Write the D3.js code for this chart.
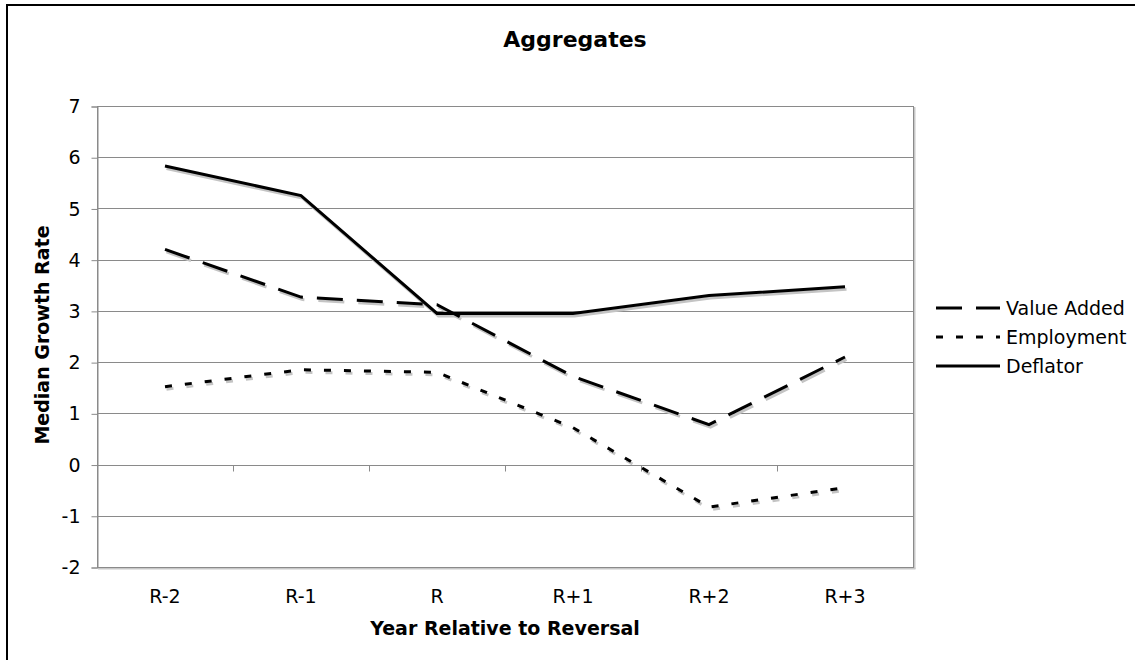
<!DOCTYPE html>
<html>
<head>
<meta charset="utf-8">
<script src="https://cdn.jsdelivr.net/npm/d3@7"></script>
<style>
  html, body { margin: 0; padding: 0; background: #fff; }
  svg { display: block; font-family: "DejaVu Sans", Verdana, sans-serif; }
</style>
</head>
<body>
<svg id="chart" width="1135" height="660"></svg>
<script>
const categories = ["R-2", "R-1", "R", "R+1", "R+2", "R+3"];
const valueAdded = [4.2, 3.27, 3.12, 1.72, 0.78, 2.1];
const employment = [1.52, 1.85, 1.8, 0.72, -0.83, -0.45];
const deflator   = [5.83, 5.25, 2.95, 2.95, 3.3, 3.47];
const yTicks = [-2, -1, 0, 1, 2, 3, 4, 5, 6, 7];
const yTickLabels = ["-2", "-1", "0", "1", "2", "3", "4", "5", "6", "7"];
const seriesNames = ["Value Added", "Employment", "Deflator"];
const chartTitle = "Aggregates";
const xTitle = "Year Relative to Reversal";
const yTitle = "Median Growth Rate";

const series = [
  { name: seriesNames[0], values: valueAdded, dash: "26,14" },
  { name: seriesNames[1], values: employment, dash: "7,13" },
  { name: seriesNames[2], values: deflator, dash: null }
];

const svg = d3.select("#chart");
const plot = { left: 97, right: 913, top: 106, bottom: 567 };

const x = d3.scaleBand().domain(categories).range([plot.left, plot.right]).padding(0);
const y = d3.scaleLinear().domain([-2, 7]).range([plot.bottom, plot.top]);
const cx = c => x(c) + x.bandwidth() / 2;

// outer border
svg.append("rect").attr("x", 7).attr("y", 5).attr("width", 1200).attr("height", 700)
  .attr("fill", "none").attr("stroke", "#000").attr("stroke-width", 2);

// plot shadow
svg.append("line").attr("x1", plot.right + 1.5).attr("x2", plot.right + 1.5)
  .attr("y1", plot.top + 1).attr("y2", plot.bottom + 2)
  .attr("stroke", "#c8c8c8").attr("stroke-width", 2);
svg.append("line").attr("x1", plot.left + 1).attr("x2", plot.right + 2.5)
  .attr("y1", plot.bottom + 1.5).attr("y2", plot.bottom + 1.5)
  .attr("stroke", "#c8c8c8").attr("stroke-width", 2);

// gridlines
svg.append("g").selectAll("line").data(yTicks).join("line")
  .attr("x1", plot.left).attr("x2", plot.right)
  .attr("y1", d => Math.round(y(d)) + 0.5).attr("y2", d => Math.round(y(d)) + 0.5)
  .attr("stroke", "#8a8a8a").attr("stroke-width", 1);

// plot border
svg.append("rect")
  .attr("x", plot.left + 0.5).attr("y", Math.round(plot.top) + 0.5)
  .attr("width", plot.right - plot.left).attr("height", plot.bottom - plot.top)
  .attr("fill", "none").attr("stroke", "#8a8a8a").attr("stroke-width", 1);

// y axis
const yAxis = d3.axisLeft(y).tickValues(yTicks).tickSize(6).tickPadding(11)
  .tickFormat((d, i) => yTickLabels[i]);
const gy = svg.append("g").attr("transform", `translate(${plot.left + 0.5},0.5)`).call(yAxis);
gy.select(".domain").attr("stroke", "#8a8a8a");
gy.selectAll(".tick line").attr("stroke", "#8a8a8a");
gy.selectAll(".tick text").attr("font-size", 19).attr("font-family", "DejaVu Sans, Verdana, sans-serif").attr("fill", "#000");

// x axis at y=0 with boundary ticks
const boundaries = categories.map(c => x(c)).concat([plot.right]);
const zeroY = Math.round(y(0)) + 0.5;
svg.append("g").selectAll("line").data(boundaries).join("line")
  .attr("x1", d => Math.round(d) + 0.5).attr("x2", d => Math.round(d) + 0.5)
  .attr("y1", zeroY).attr("y2", zeroY + 6)
  .attr("stroke", "#8a8a8a").attr("stroke-width", 1);

// x labels
const xAxis = d3.axisBottom(x).tickSize(0).tickPadding(0);
const gx = svg.append("g").attr("transform", `translate(0,${plot.bottom + 22})`).call(xAxis);
gx.select(".domain").remove();
gx.selectAll(".tick text").attr("font-size", 19).attr("font-family", "DejaVu Sans, Verdana, sans-serif").attr("fill", "#000");

// lines
const line = d3.line().x((d, i) => cx(categories[i])).y(d => y(d));

const shadows = svg.append("g").attr("transform", "translate(1.5,2.5)");
series.forEach(s => {
  shadows.append("path").datum(s.values).attr("d", line)
    .attr("fill", "none").attr("stroke", "#c4c4c4").attr("stroke-width", 3)
    .attr("stroke-linejoin", "miter").attr("stroke-dasharray", s.dash);
});
const lines = svg.append("g");
series.forEach(s => {
  lines.append("path").datum(s.values).attr("d", line)
    .attr("fill", "none").attr("stroke", "#000").attr("stroke-width", 3)
    .attr("stroke-linejoin", "miter").attr("stroke-dasharray", s.dash);
});

// titles
svg.append("text").attr("x", 575).attr("y", 47).attr("text-anchor", "middle")
  .attr("font-size", 22).attr("font-weight", "bold").text(chartTitle);
svg.append("text").attr("x", (plot.left + plot.right) / 2).attr("y", 635).attr("text-anchor", "middle")
  .attr("font-size", 19).attr("font-weight", "bold").text(xTitle);
svg.append("text").attr("transform", `translate(49,335) rotate(-90)`).attr("text-anchor", "middle")
  .attr("font-size", 19).attr("font-weight", "bold").text(yTitle);

// legend
const legend = svg.append("g");
const rowY = [308, 337, 366];
series.forEach((s, i) => {
  legend.append("line").attr("x1", 936).attr("x2", 1000).attr("y1", rowY[i]).attr("y2", rowY[i])
    .attr("stroke", "#000").attr("stroke-width", 3).attr("stroke-dasharray", s.dash);
  legend.append("text").attr("x", 1006).attr("y", rowY[i]).attr("dy", "0.35em")
    .attr("font-size", 19).text(s.name);
});
</script>
</body>
</html>
